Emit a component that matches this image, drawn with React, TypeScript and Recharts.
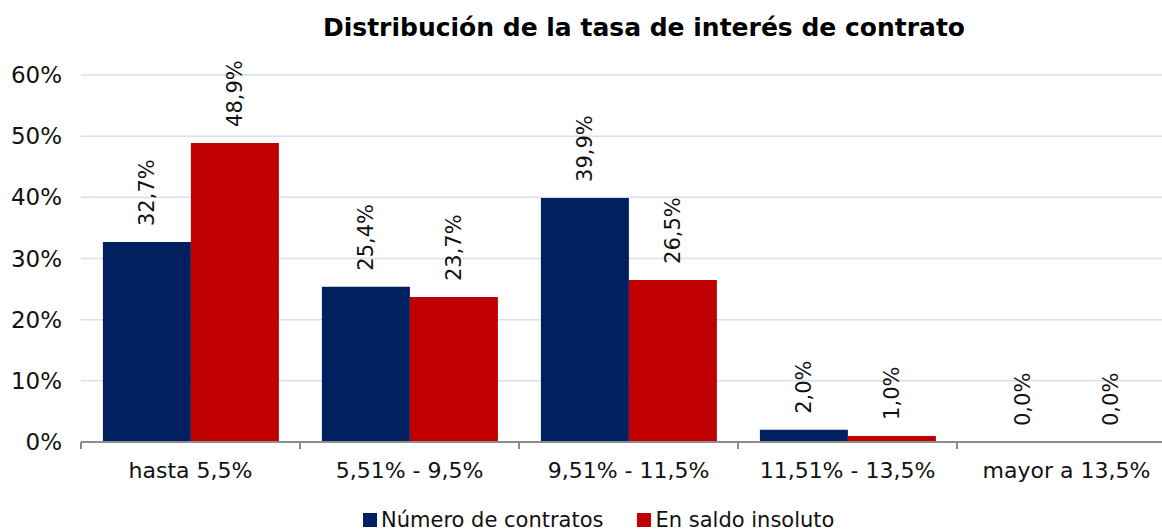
import React from "react";
import { BarChart, Bar, XAxis, YAxis, CartesianGrid, Legend, LabelList } from "recharts";

const categories = ["hasta 5,5%", "5,51% - 9,5%", "9,51% - 11,5%", "11,51% - 13,5%", "mayor a 13,5%"];
const contratos = [32.7, 25.4, 39.9, 2.0, 0.0];
const saldo = [48.9, 23.7, 26.5, 1.0, 0.0];
const yTicks = [0, 10, 20, 30, 40, 50, 60];
const seriesOrder = ["contratos", "saldo"];

const FONT = "'DejaVu Sans', Verdana, sans-serif";
const BLUE = "#002060";
const RED = "#C00000";

const data = categories.map((c, i) => ({ cat: c, contratos: contratos[i], saldo: saldo[i] }));

const fmt = (v: number) => Number(v).toFixed(1).replace(".", ",") + "%";

function VLabel(props: any) {
  const { x, y, width, height, value } = props;
  const top = height < 0 ? y + height : y;
  const cx = Number(x) + Number(width) / 2;
  const cy = Number(top) - 16;
  return (
    <text
      x={cx}
      y={cy}
      transform={`rotate(-90 ${cx} ${cy})`}
      textAnchor="start"
      dominantBaseline="central"
      fontFamily={FONT}
      fontSize={21}
      fill="#111"
    >
      {fmt(value ?? 0)}
    </text>
  );
}

function CatTick(props: any) {
  const { x, y, payload } = props;
  const half = payload?.offset ?? 109.5;
  return (
    <g>
      <line x1={x - half} y1={y} x2={x - half} y2={y + 7} stroke="#8c8c8c" strokeWidth={2} />
      <text x={x} y={y + 28} textAnchor="middle" dominantBaseline="central" fontFamily={FONT} fontSize={22} fill="#111">
        {payload.value}
      </text>
    </g>
  );
}

function LegendContent(props: any) {
  const items = [...(props.payload || [])].sort(
    (a: any, b: any) => seriesOrder.indexOf(a.dataKey) - seriesOrder.indexOf(b.dataKey)
  );
  return (
    <div style={{ display: "flex", gap: 34, fontFamily: FONT, fontSize: 21, color: "#111", lineHeight: "24px" }}>
      {items.map((it: any) => (
        <div key={it.value} style={{ display: "flex", alignItems: "center" }}>
          <span style={{ display: "inline-block", width: 14, height: 14, background: it.color, marginRight: 4 }} />
          <span>{it.value}</span>
        </div>
      ))}
    </div>
  );
}

const minSize = (v: any) => (v === 0 ? 0.01 : 0);

export default function App() {
  return (
    <div style={{ position: "absolute", top: 0, left: 0, width: 1162, height: 531, overflow: "hidden", background: "#fff" }}>
      <div
        style={{
          position: "absolute",
          top: 13,
          left: 0,
          width: 1288,
          textAlign: "center",
          fontFamily: FONT,
          fontWeight: "bold",
          fontSize: 25,
          lineHeight: "30px",
          color: "#000",
        }}
      >
        Distribución de la tasa de interés de contrato
      </div>
      <BarChart
        width={1200}
        height={531}
        data={data}
        margin={{ top: 75, right: 24, left: 0, bottom: 0 }}
        barCategoryGap="10%"
        barGap={0}
      >
        <CartesianGrid vertical={false} stroke="#d6e0f0" strokeWidth={1.5} />
        <XAxis
          dataKey="cat"
          height={89}
          axisLine={{ stroke: "#8c8c8c", strokeWidth: 2 }}
          tickLine={false}
          tickSize={0}
          tickMargin={0}
          tick={<CatTick />}
          interval={0}
        />
        <YAxis
          width={81}
          domain={[0, 60]}
          ticks={yTicks}
          axisLine={false}
          tickLine={false}
          tickSize={0}
          tickMargin={19}
          tickFormatter={(v: number) => v + "%"}
          tick={{ fontFamily: FONT, fontSize: 23, fill: "#111" }}
        />
        <Legend
          layout="horizontal"
          verticalAlign="middle"
          align="center"
          content={<LegendContent />}
          wrapperStyle={{ top: 508, left: 363, width: "auto" }}
        />
        <Bar dataKey="contratos" name="Número de contratos" fill={BLUE} minPointSize={minSize} isAnimationActive={false}>
          <LabelList dataKey="contratos" content={<VLabel />} />
        </Bar>
        <Bar dataKey="saldo" name="En saldo insoluto" fill={RED} minPointSize={minSize} isAnimationActive={false}>
          <LabelList dataKey="saldo" content={<VLabel />} />
        </Bar>
      </BarChart>
    </div>
  );
}
